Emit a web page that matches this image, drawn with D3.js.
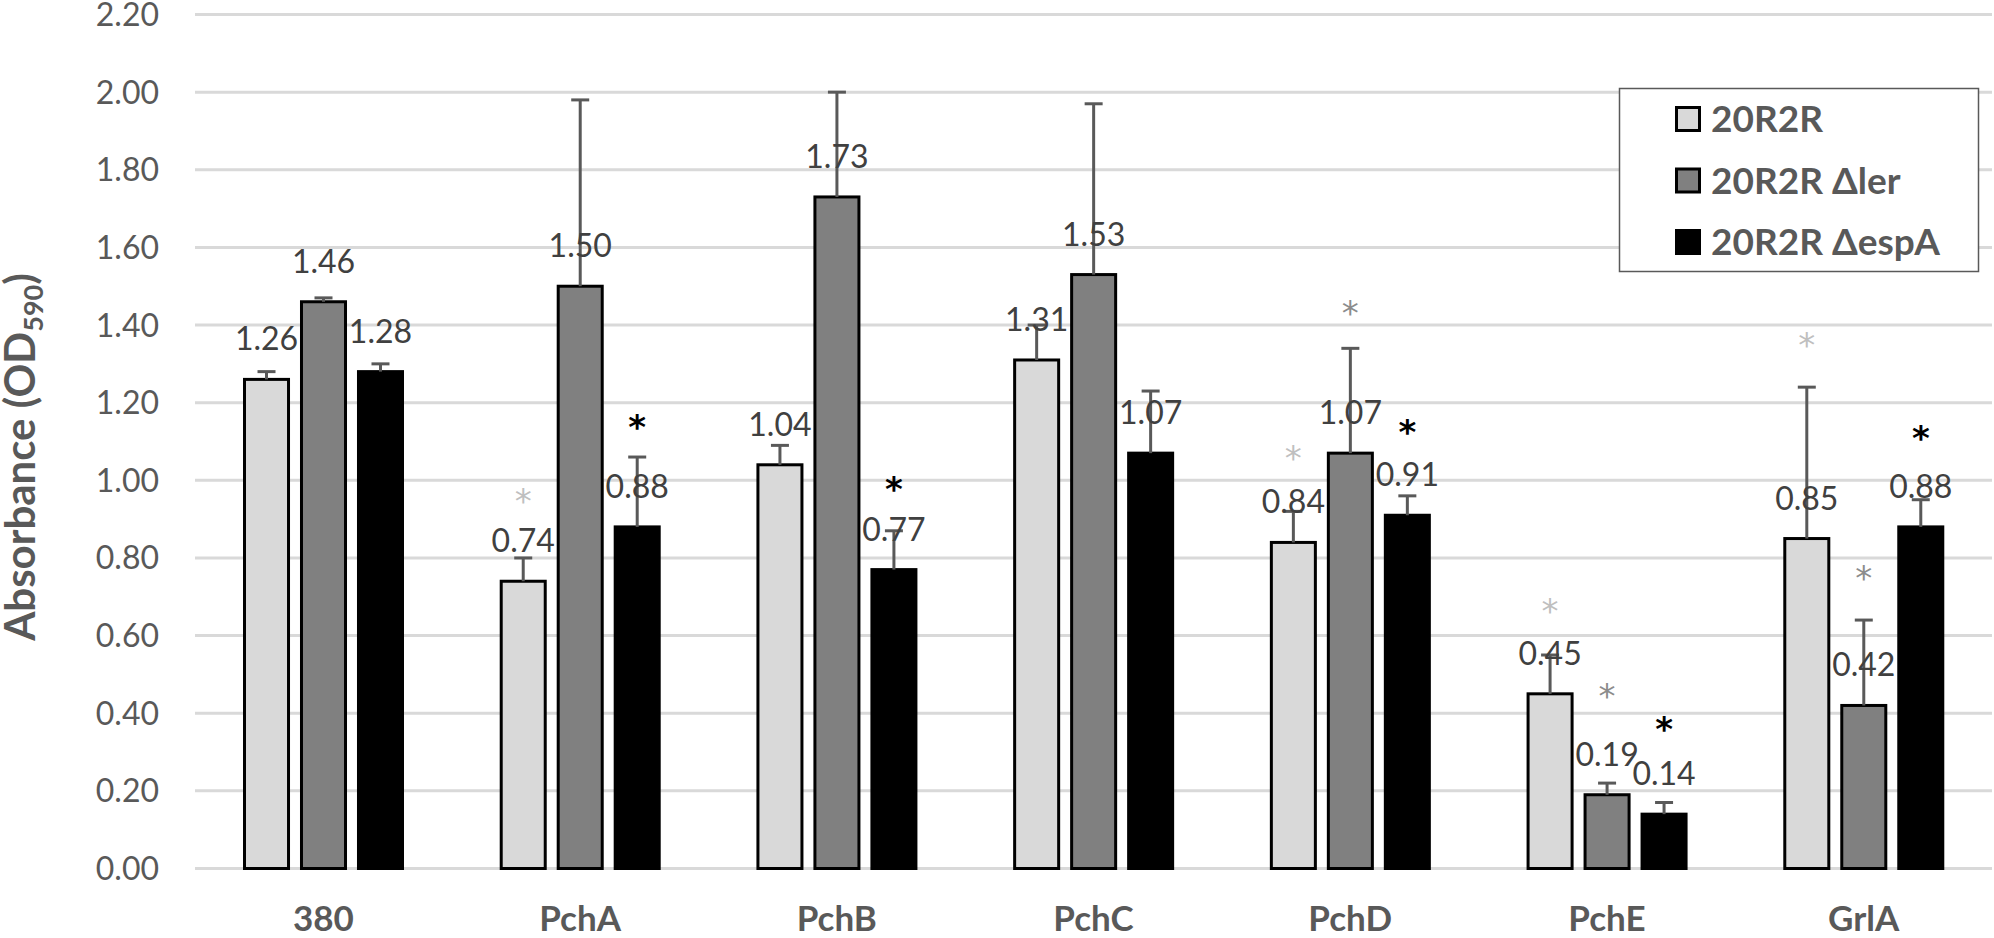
<!DOCTYPE html>
<html lang="en">

<head>
    <meta charset="utf-8">
    <title>Absorbance OD590</title>
    <script type="text/javascript" src="https://d3js.org/d3.v7.min.js"></script>
    <style>
      body { margin: 0; background: #fff; }
      svg { display: block; font-family: Lato, "Open Sans", sans-serif; }
    </style>
</head>

<body>
    <script type="text/javascript">
      var w = 1994;
      var h = 938;

      //// Data
      var categories = ["380", "PchA", "PchB", "PchC", "PchD", "PchE", "GrlA"];
      var seriesNames = ["20R2R", "20R2R \u0394ler", "20R2R \u0394espA"];
      var wt   = [1.26, 0.74, 1.04, 1.31, 0.84, 0.45, 0.85];
      var ler  = [1.46, 1.50, 1.73, 1.53, 1.07, 0.19, 0.42];
      var espA = [1.28, 0.88, 0.77, 1.07, 0.91, 0.14, 0.88];
      // upper error bar (SD)
      var wtErr   = [0.02, 0.06, 0.05, 0.09, 0.08, 0.10, 0.39];
      var lerErr  = [0.01, 0.48, 0.27, 0.44, 0.27, 0.03, 0.22];
      var espAErr = [0.02, 0.18, 0.10, 0.16, 0.05, 0.03, 0.07];
      // significance stars: [category, series, height]
      var stars = [
        ["PchA", 0, 0.967], ["PchA", 2, 1.158],
        ["PchB", 2, 0.999],
        ["PchD", 0, 1.078], ["PchD", 1, 1.452], ["PchD", 2, 1.145],
        ["PchE", 0, 0.684], ["PchE", 1, 0.466], ["PchE", 2, 0.38],
        ["GrlA", 0, 1.37],  ["GrlA", 1, 0.769], ["GrlA", 2, 1.13]
      ];
      var yTicks = [0, 0.2, 0.4, 0.6, 0.8, 1.0, 1.2, 1.4, 1.6, 1.8, 2.0, 2.2];

      var fills = ["#d9d9d9", "#808080", "#000000"];
      var starColors = ["#bfbfbf", "#8c8c8c", "#000000"];
      var values = [wt, ler, espA];
      var errs = [wtErr, lerErr, espAErr];

      var rows = [];
      categories.forEach(function(c, i) {
        values.forEach(function(v, s) {
          rows.push({ cat: c, s: s, v: v[i], e: errs[s][i] });
        });
      });

      //// Scales
      var x0 = d3.scaleBand().domain(categories).range([195, 1992]);
      var x1 = d3.scaleBand().domain([0, 1, 2])
        .range([48, 209]).paddingInner(0.175);
      var y = d3.scaleLinear().domain([0, 2.2]).range([868.5, 14.5]);

      var svg = d3.select("body")
        .append("svg")
        .attr("width", w)
        .attr("height", h);

      //// Gridlines + y tick labels
      svg.append("g")
        .selectAll("line")
        .data(yTicks)
        .enter()
        .append("line")
        .attr("x1", 195)
        .attr("x2", 1992)
        .attr("y1", function(d) { return y(d); })
        .attr("y2", function(d) { return y(d); })
        .attr("stroke", "#d9d9d9")
        .attr("stroke-width", 3);

      svg.append("g")
        .selectAll("text")
        .data(yTicks)
        .enter()
        .append("text")
        .text(function(d) { return d.toFixed(2); })
        .attr("x", 159)
        .attr("y", function(d) { return y(d); })
        .attr("dy", "0.36em")
        .attr("text-anchor", "end")
        .attr("font-size", "32px")
        .attr("fill", "#595959");

      //// Bars
      var bx = function(d) { return x0(d.cat) + x1(d.s); };

      svg.append("g")
        .selectAll("rect")
        .data(rows)
        .enter()
        .append("rect")
        .attr("x", function(d) { return bx(d) + 1.5; })
        .attr("y", function(d) { return y(d.v); })
        .attr("width", x1.bandwidth() - 3)
        .attr("height", function(d) { return y(0) - y(d.v); })
        .attr("fill", function(d) { return fills[d.s]; })
        .attr("stroke", "#000")
        .attr("stroke-width", 3);

      //// Error bars (upper only)
      var eb = svg.append("g")
        .attr("stroke", "#595959")
        .attr("stroke-width", 3);

      eb.selectAll("line.v")
        .data(rows)
        .enter()
        .append("line")
        .attr("class", "v")
        .attr("x1", function(d) { return bx(d) + x1.bandwidth() / 2; })
        .attr("x2", function(d) { return bx(d) + x1.bandwidth() / 2; })
        .attr("y1", function(d) { return y(d.v); })
        .attr("y2", function(d) { return y(d.v + d.e); });

      eb.selectAll("line.cap")
        .data(rows)
        .enter()
        .append("line")
        .attr("class", "cap")
        .attr("x1", function(d) { return bx(d) + x1.bandwidth() / 2 - 9; })
        .attr("x2", function(d) { return bx(d) + x1.bandwidth() / 2 + 9; })
        .attr("y1", function(d) { return y(d.v + d.e); })
        .attr("y2", function(d) { return y(d.v + d.e); });

      //// Value labels
      svg.append("g")
        .selectAll("text")
        .data(rows)
        .enter()
        .append("text")
        .text(function(d) { return d.v.toFixed(2); })
        .attr("x", function(d) { return bx(d) + x1.bandwidth() / 2; })
        .attr("y", function(d) { return y(d.v) - 29; })
        .attr("text-anchor", "middle")
        .attr("font-size", "32px")
        .attr("fill", "#404040");

      //// Stars
      svg.append("g")
        .selectAll("text")
        .data(stars)
        .enter()
        .append("text")
        .text("*")
        .attr("x", function(d) { return x0(d[0]) + x1(d[1]) + x1.bandwidth() / 2; })
        .attr("y", function(d) { return y(d[2]) + 20; })
        .attr("text-anchor", "middle")
        .attr("font-family", "'DejaVu Sans', sans-serif")
        .attr("font-size", "34px")
        .attr("font-weight", function(d) { return d[1] == 2 ? "bold" : "normal"; })
        .attr("fill", function(d) { return starColors[d[1]]; });

      //// X axis labels
      svg.append("g")
        .selectAll("text")
        .data(categories)
        .enter()
        .append("text")
        .text(function(d) { return d; })
        .attr("x", function(d) { return x0(d) + x0.bandwidth() / 2; })
        .attr("y", 931)
        .attr("text-anchor", "middle")
        .attr("font-size", "35px")
        .attr("font-weight", "bold")
        .attr("fill", "#595959");

      //// Y axis title
      var yt = svg.append("text")
        .attr("transform", "translate(35,457) rotate(-90)")
        .attr("text-anchor", "middle")
        .attr("font-size", "42px")
        .attr("font-weight", "bold")
        .attr("fill", "#595959");
      yt.append("tspan").text("Absorbance (OD");
      yt.append("tspan").text("590").attr("font-size", "27px").attr("dy", 8);
      yt.append("tspan").text(")").attr("dy", -8);

      //// Legend
      var lg = svg.append("g");
      lg.append("rect")
        .attr("x", 1619.5)
        .attr("y", 88.5)
        .attr("width", 359)
        .attr("height", 183)
        .attr("fill", "#fff")
        .attr("stroke", "#595959")
        .attr("stroke-width", 1.5);

      var items = lg.selectAll("g.item")
        .data(seriesNames)
        .enter()
        .append("g")
        .attr("class", "item")
        .attr("transform", function(d, i) { return "translate(0," + (119 + i * 61.5) + ")"; });

      items.append("rect")
        .attr("x", 1676.5)
        .attr("y", -11.5)
        .attr("width", 23)
        .attr("height", 23)
        .attr("fill", function(d, i) { return fills[i]; })
        .attr("stroke", "#000")
        .attr("stroke-width", 3);

      items.append("text")
        .text(function(d) { return d; })
        .attr("x", 1711)
        .attr("y", 13)
        .attr("font-size", "37px")
        .attr("font-weight", "bold")
        .attr("fill", "#595959");
    </script>
</body>

</html>
